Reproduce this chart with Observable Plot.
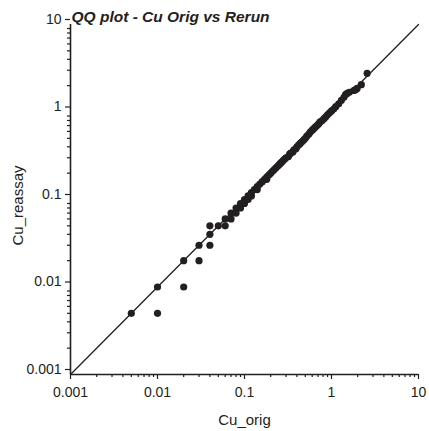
<!DOCTYPE html>
<html>
<head>
<meta charset="utf-8">
<script src="https://cdn.jsdelivr.net/npm/d3@7"></script>
<script src="https://cdn.jsdelivr.net/npm/@observablehq/plot@0.6"></script>
<style>
  html, body { margin: 0; padding: 0; background: #fff; }
</style>
</head>
<body>
<div id="chart"></div>
<script>
const title = "QQ plot - Cu Orig vs Rerun";
const xLabel = "Cu_orig";
const yLabel = "Cu_reassay";

const tickValues = [0.001, 0.01, 0.1, 1, 10];
const tickLabels = ["0.001", "0.01", "0.1", "1", "10"];
const minorMultipliers = [2, 3, 4, 5, 6, 7, 8, 9];
const lineRange = [0.001, 10];

const cuOrig = [
  0.005, 0.01, 0.01, 0.02, 0.02, 0.03, 0.03, 0.04, 0.04, 0.04,
  0.05, 0.06, 0.06, 0.07, 0.07, 0.08, 0.08, 0.09, 0.09, 0.10,
  0.10, 0.11, 0.11, 0.12, 0.12, 0.13, 0.14, 0.14, 0.15, 0.16,
  0.17, 0.18, 0.18, 0.19, 0.20, 0.21, 0.22, 0.23, 0.24, 0.25,
  0.26, 0.27, 0.28, 0.29, 0.30, 0.32, 0.33, 0.34, 0.36, 0.37,
  0.39, 0.40, 0.42, 0.44, 0.46, 0.48, 0.50, 0.52, 0.55, 0.57,
  0.60, 0.62, 0.65, 0.68, 0.71, 0.74, 0.78, 0.82, 0.86, 0.90,
  0.95, 1.00, 1.06, 1.12, 1.21, 1.30, 1.39, 1.45, 1.51, 1.60,
  1.80, 1.89, 1.97, 2.20, 2.57
];
const cuReassay = [
  0.005, 0.005, 0.01, 0.01, 0.02, 0.02, 0.03, 0.03, 0.04, 0.05,
  0.05, 0.05, 0.06, 0.06, 0.07, 0.07, 0.08, 0.08, 0.09, 0.09,
  0.10, 0.10, 0.11, 0.11, 0.12, 0.13, 0.13, 0.14, 0.15, 0.16,
  0.17, 0.17, 0.18, 0.19, 0.20, 0.21, 0.22, 0.23, 0.24, 0.25,
  0.26, 0.27, 0.28, 0.29, 0.30, 0.31, 0.33, 0.34, 0.35, 0.37,
  0.38, 0.40, 0.42, 0.44, 0.46, 0.48, 0.50, 0.53, 0.56, 0.59,
  0.62, 0.64, 0.67, 0.70, 0.73, 0.77, 0.80, 0.84, 0.88, 0.93,
  0.98, 1.03, 1.08, 1.15, 1.24, 1.36, 1.47, 1.58, 1.63, 1.68,
  1.76, 1.80, 1.86, 2.05, 2.77
];

const points = cuOrig.map((x, i) => ({x, y: cuReassay[i]}));
const diag = lineRange.map(v => ({x: v, y: v}));
const minorTicks = tickValues.slice(0, -1).flatMap(d => minorMultipliers.map(m => +(d * m).toPrecision(3)));
const labelOf = new Map(tickValues.map((v, i) => [v, tickLabels[i]]));

const ink = "#231f20";
const font = "'Liberation Sans', Arial, Helvetica, sans-serif";

const chart = Plot.plot({
  width: 429,
  height: 431,
  marginLeft: 70,
  marginRight: 11,
  marginTop: 24,
  marginBottom: 57,
  style: {fontFamily: font, fontSize: "14px", color: ink, background: "#fff"},
  x: {type: "log", domain: lineRange, label: null},
  y: {type: "log", domain: lineRange, label: null},
  marks: [
    Plot.axisX(minorTicks, {anchor: "bottom", tickSize: 3, tickFormat: () => "", stroke: ink, strokeWidth: 1.2, label: null}),
    Plot.axisY(minorTicks, {anchor: "left", tickSize: 3, tickFormat: () => "", stroke: ink, strokeWidth: 1.2, label: null}),
    Plot.axisX(tickValues, {anchor: "bottom", tickSize: 5, tickPadding: 8, tickFormat: d => labelOf.get(d), stroke: ink, strokeWidth: 1.2, fill: ink, fontSize: 14, label: null}),
    Plot.axisY(tickValues, {anchor: "left", tickSize: 5, tickPadding: 4, dy: -5, tickFormat: d => labelOf.get(d), stroke: ink, strokeWidth: 1.2, fill: ink, fontSize: 14, label: null}),
    Plot.ruleX([lineRange[0]], {stroke: ink, strokeWidth: 1.6}),
    Plot.ruleY([lineRange[0]], {stroke: ink, strokeWidth: 1.6}),
    Plot.line(diag, {x: "x", y: "y", stroke: ink, strokeWidth: 1.3}),
    Plot.dot(points, {x: "x", y: "y", r: 3.6, fill: ink, stroke: "none"}),
    Plot.text([title], {frameAnchor: "top-left", text: d => d, textAnchor: "start", lineAnchor: "bottom", dx: 1, dy: -3, fontSize: 15.5, fontWeight: "bold", fontStyle: "italic", fill: ink}),
    Plot.text([xLabel], {frameAnchor: "bottom", text: d => d, textAnchor: "middle", lineAnchor: "bottom", dy: 50, fontSize: 15, fill: ink}),
    Plot.text([yLabel], {frameAnchor: "middle", text: d => d, textAnchor: "middle", lineAnchor: "middle", rotate: -90, dx: -226, dy: 6, fontSize: 15, fill: ink})
  ]
});
document.getElementById("chart").appendChild(chart);
</script>
</body>
</html>
